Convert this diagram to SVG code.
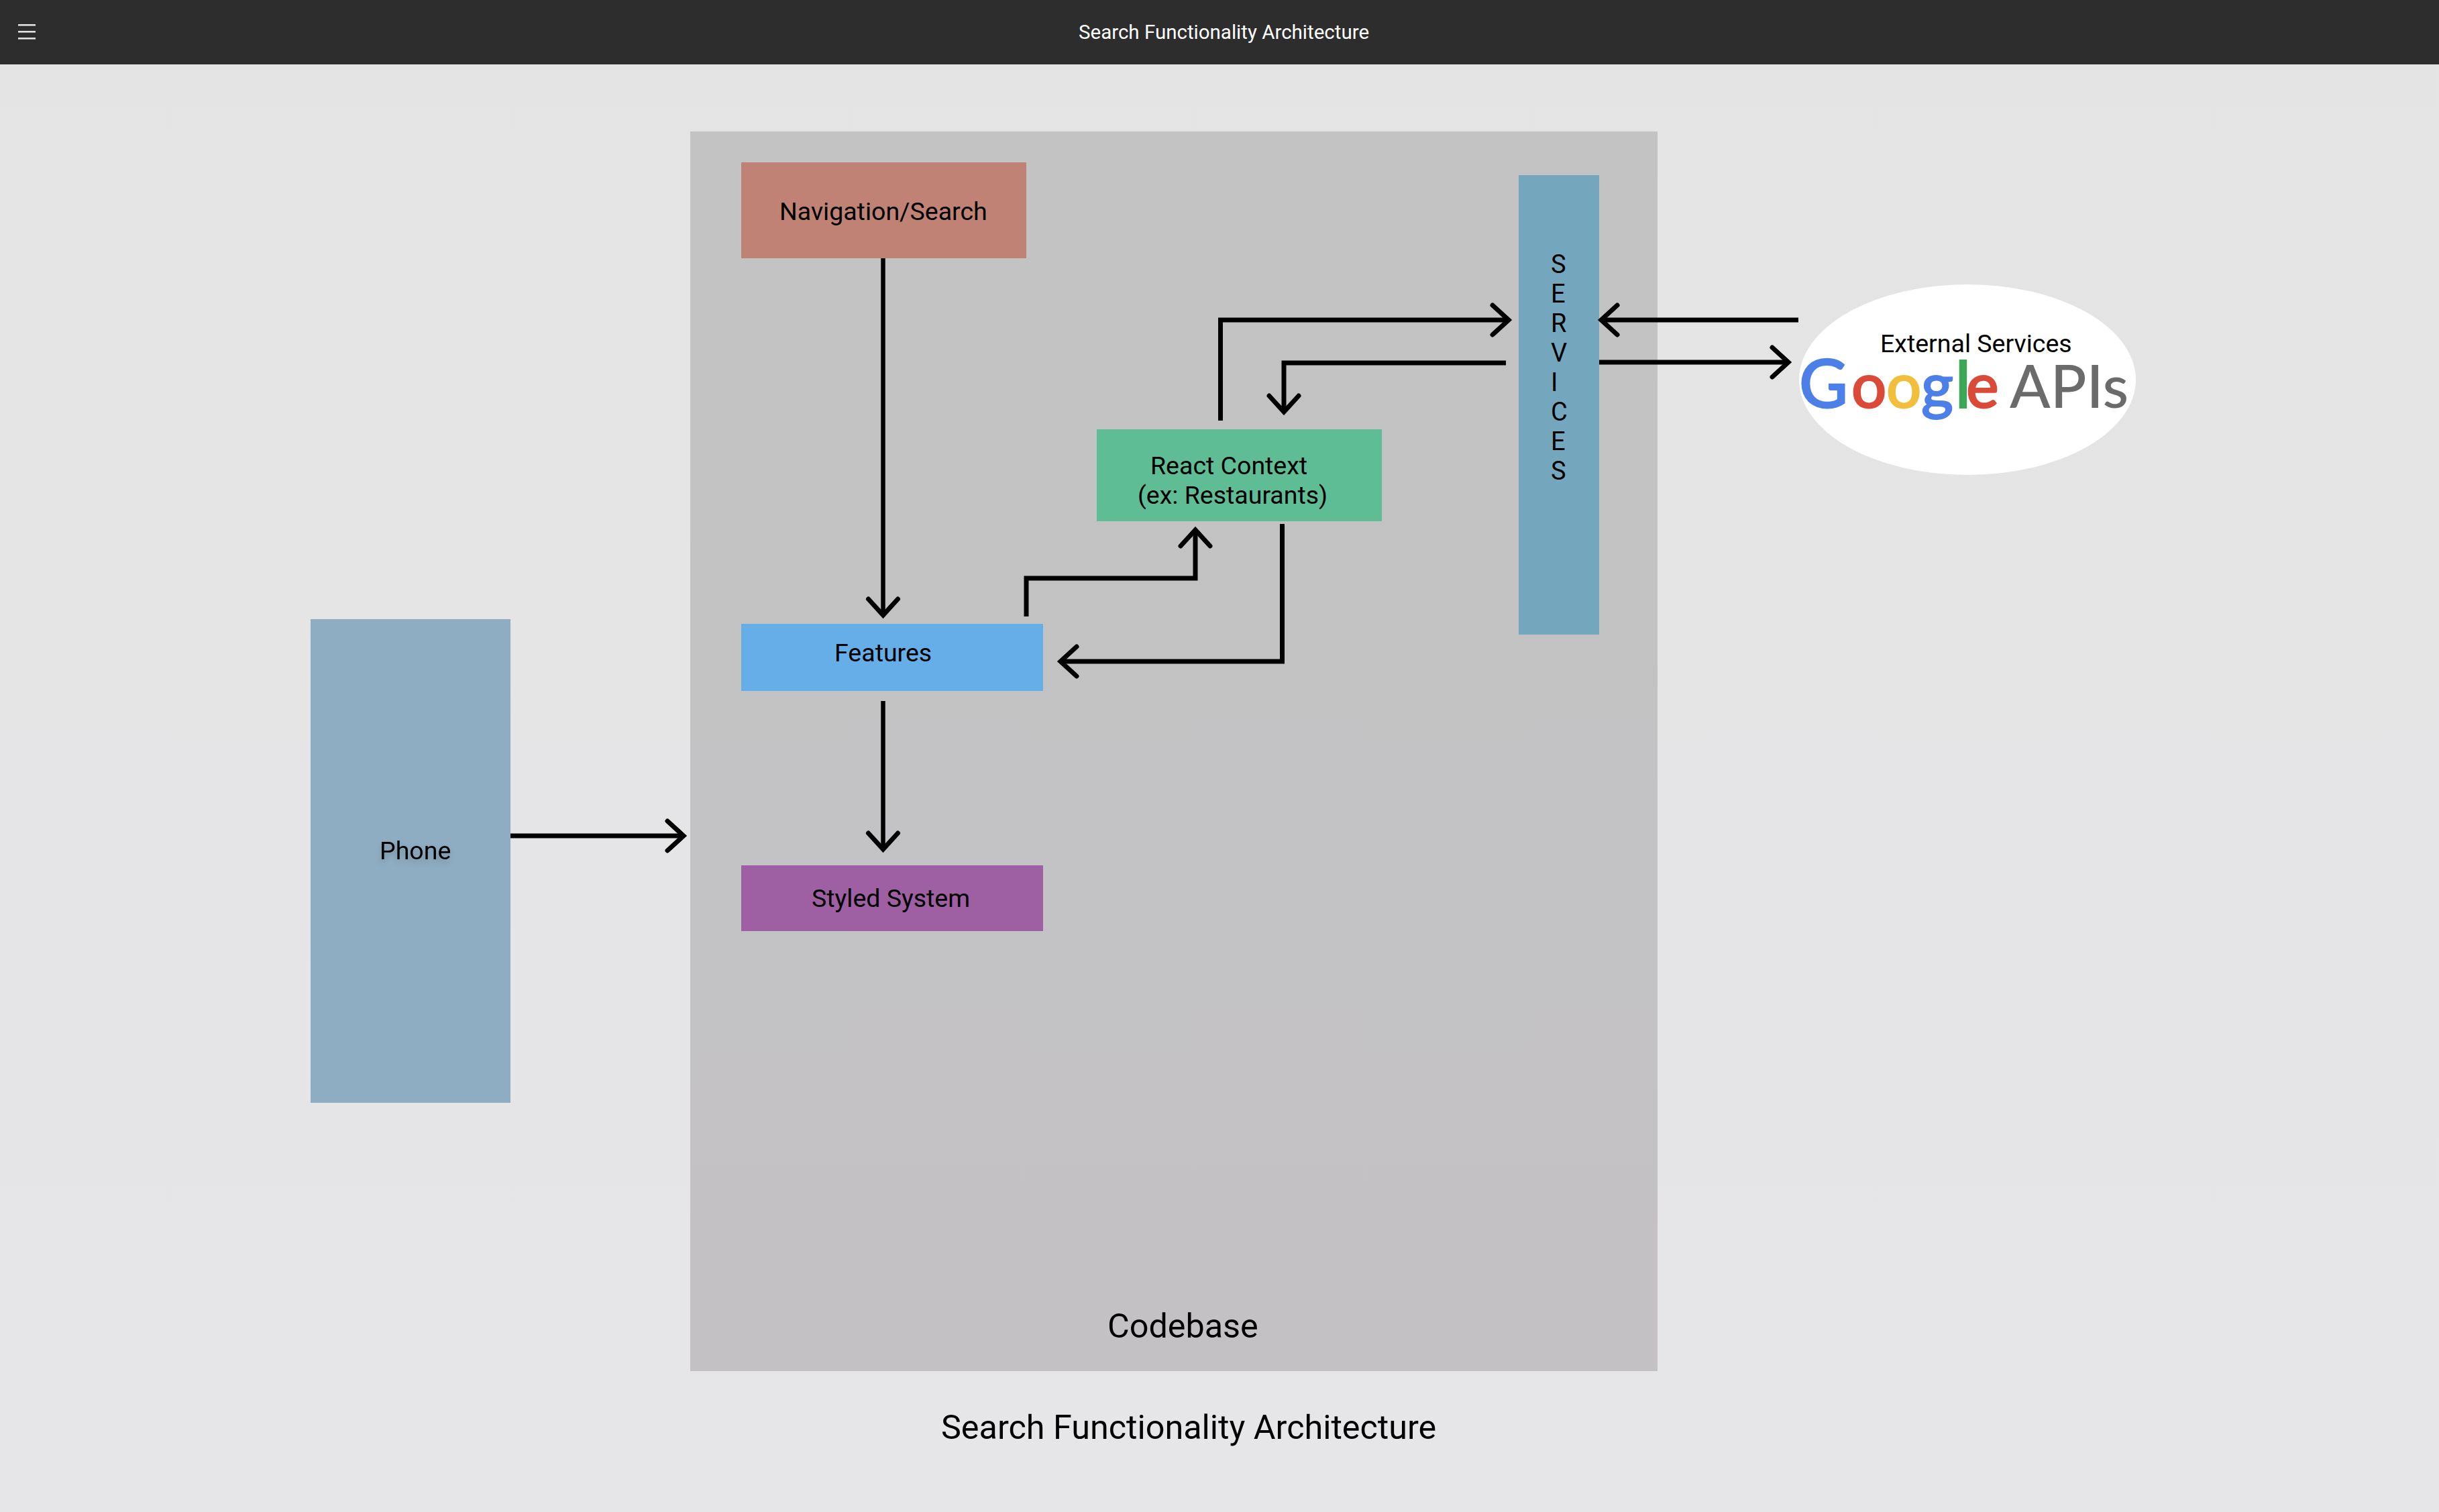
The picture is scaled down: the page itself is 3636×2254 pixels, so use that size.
<svg xmlns="http://www.w3.org/2000/svg" width="3636" height="2254" viewBox="0 0 3636 2254">
<style>
text{font-family:Roboto,"Liberation Sans",sans-serif;fill:#000}
.l{font-size:37.5px}
.big{font-size:50.3px}
.conn{fill:none;stroke:#000;stroke-width:7;stroke-linejoin:miter;marker-end:url(#arrow)}
.thin{stroke-width:6.5}
.goog{font-family:Lato,"Open Sans",sans-serif;font-size:92px;font-weight:500;stroke-width:2}
</style>
<defs>
<linearGradient id="bg" x1="0" y1="0" x2="0" y2="1"><stop offset="0" stop-color="#e4e4e4"/><stop offset="1" stop-color="#e6e5e8"/></linearGradient>
<linearGradient id="cb" x1="0" y1="0" x2="0" y2="1"><stop offset="0" stop-color="#c3c3c3"/><stop offset="1" stop-color="#c3c1c4"/></linearGradient>
<marker id="arrow" markerUnits="userSpaceOnUse" markerWidth="60" markerHeight="60" refX="0" refY="0" viewBox="-40 -30 60 60" orient="auto" overflow="visible">
<path d="M-24,-22 L0,0 L-24,22" fill="none" stroke="#000" stroke-width="7" stroke-linecap="round" stroke-linejoin="miter"/>
</marker>
</defs>
<rect x="0" y="0" width="3636" height="2254" fill="url(#bg)"/>
<g id="topbar">
<rect x="0" y="0" width="3636" height="96" fill="#2d2d2d"/>
<rect x="27" y="36" width="26" height="2.6" fill="#e0e0e0"/>
<rect x="27" y="46" width="26" height="2.6" fill="#e0e0e0"/>
<rect x="27" y="56" width="26" height="2.6" fill="#e0e0e0"/>
<text x="1608" y="58" style="font-size:29.5px;fill:#fff">Search Functionality Architecture</text>
</g>
<g id="codebase">
<rect x="1029" y="196" width="1442" height="1848" fill="url(#cb)"/>
<text x="1651" y="1994" class="big">Codebase</text>
</g>
<g id="phone">
<rect x="463" y="923" width="298" height="721" fill="#8fadc2"/>
<text x="566" y="1281" class="l" style="filter:drop-shadow(0 5px 4px rgba(0,0,0,.18))">Phone</text>
</g>
<g id="navigation-search">
<rect x="1105" y="242" width="425" height="143" fill="#c08274"/>
<text x="1162" y="328" class="l">Navigation/Search</text>
</g>
<g id="features">
<rect x="1105" y="930" width="450" height="100" fill="#66aee8"/>
<text x="1244" y="986" class="l">Features</text>
</g>
<g id="styled-system">
<rect x="1105" y="1290" width="450" height="98" fill="#9e5fa3"/>
<text x="1210" y="1352" class="l">Styled System</text>
</g>
<g id="react-context">
<rect x="1635" y="640" width="425" height="137" fill="#5fbd96"/>
<text x="1715" y="707" class="l">React Context</text>
<text x="1696" y="751" class="l">(ex: Restaurants)</text>
</g>
<g id="services">
<rect x="2264" y="261" width="120" height="685" fill="#74a7bd"/>
<text class="l" style="font-size:38px"><tspan x="2312" y="407">S</tspan><tspan x="2312" y="451">E</tspan><tspan x="2312" y="495">R</tspan><tspan x="2312" y="539">V</tspan><tspan x="2312" y="583">I</tspan><tspan x="2312" y="627">C</tspan><tspan x="2312" y="671">E</tspan><tspan x="2312" y="715">S</tspan></text>
</g>
<g id="external-services">
<ellipse cx="2933" cy="566" rx="251" ry="142" fill="#fff"/>
<text x="2803" y="525" style="font-size:37.5px">External Services</text>
<text y="608" class="goog"><tspan x="2682" style="fill:#4c80e8;stroke:#4c80e8;font-size:100px">G</tspan><tspan x="2760" style="fill:#db4a38;stroke:#db4a38">o</tspan><tspan x="2812" style="fill:#f2bf3c;stroke:#f2bf3c">o</tspan><tspan x="2864" style="fill:#4c80e8;stroke:#4c80e8">g</tspan><tspan x="2915" style="fill:#3ba757;stroke:#3ba757;font-size:96px">l</tspan><tspan x="2931" style="fill:#db4a38;stroke:#db4a38">e</tspan><tspan x="2996" style="fill:#6b6b6b;stroke-width:0;font-size:89px">APIs</tspan></text>
</g>
<g id="caption">
<text x="1403" y="2145" class="big">Search Functionality Architecture</text>
</g>
<g id="connectors">
<path class="conn thin" d="M1316.5,385 V917"/>
<path class="conn thin" d="M1316.5,1045 V1266"/>
<path class="conn" d="M1530,919 V862 H1782 V790"/>
<path class="conn" d="M1911.5,781 V986 H1581"/>
<path class="conn" d="M1819.5,627 V477 H2249"/>
<path class="conn" d="M2245,541 H1914 V614"/>
<path class="conn" d="M2681,477 H2387"/>
<path class="conn" d="M2384,540 H2666"/>
<path class="conn" d="M761,1246 H1019"/>
</g>
</svg>
